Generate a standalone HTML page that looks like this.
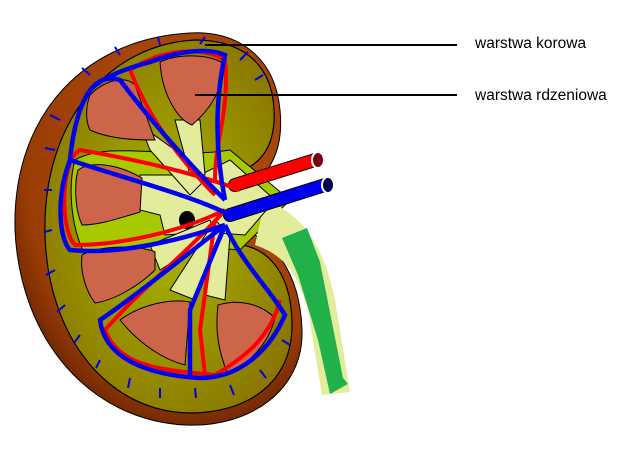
<!DOCTYPE html>
<html><head><meta charset="utf-8"><style>
html,body{margin:0;padding:0;background:#fff;width:640px;height:454px;overflow:hidden}
svg{display:block}
text{font-family:"Liberation Sans",sans-serif;font-size:15.5px;fill:#000}
</style></head><body>
<svg width="640" height="454" viewBox="0 0 640 454" xmlns="http://www.w3.org/2000/svg">
<defs>
<radialGradient id="br" cx="0.6" cy="0.35" r="0.8"><stop offset="0" stop-color="#b5520f"/><stop offset="0.7" stop-color="#9a3d05"/><stop offset="1" stop-color="#3a0c00"/></radialGradient>
<radialGradient id="ol" cx="0.5" cy="0.5" r="0.6"><stop offset="0" stop-color="#a8b800"/><stop offset="1" stop-color="#8a7400"/></radialGradient>
</defs>
<!-- outer capsule -->
<path d="M190 33 C235 30 275 55 280 110 C284 150 270 175 245 190 L240 230 C270 235 300 270 302 330 C304 390 250 428 185 425 C90 420 20 340 15 230 C12 110 90 38 190 33 Z" fill="url(#br)" stroke="#000" stroke-width="1"/>
<!-- cortex -->
<path d="M195 40 C240 40 272 62 274 110 C276 150 258 170 225 175 L225 245 C262 240 292 268 292 325 C292 385 245 413 190 413 C110 412 48 340 45 235 C42 120 110 44 195 40 Z" fill="url(#ol)" stroke="#000" stroke-width="1.2"/>
<!-- sinus -->
<path d="M75 160 C110 140 170 160 230 150 L290 200 L240 250 C200 245 150 260 85 255 C70 225 68 185 75 160 Z" fill="#a8c800" stroke="#000" stroke-width="1"/>
<!-- ureter -->
<path d="M265 200 C305 215 325 250 335 300 L350 392 L322 395 L308 310 C298 275 285 255 255 245 Z" fill="#e2ec9a"/>
<path d="M282 238 L307 228 L320 262 L343 378 L348 384 L330 394 L318 340 L298 275 Z" fill="#22b04b"/>
<!-- pelvis/calyces -->
<path d="M140 175 L200 175 L230 160 L275 200 L245 235 L205 232 L165 235 L160 215 L140 210 Z" fill="#e2ec9a" stroke="#000" stroke-width="1"/>
<path d="M140 125 L175 150 L205 180 L190 195 L150 150 Z M175 120 L200 120 L205 175 L190 175 Z M150 245 L210 220 L215 235 L160 270 Z M170 290 L215 220 L225 230 L195 300 Z M205 295 L215 230 L230 235 L225 300 Z" fill="#e2ec9a" stroke="#000" stroke-width="1"/>
<ellipse cx="187" cy="220" rx="8" ry="9" fill="#000"/>
<!-- pyramids -->
<g fill="#cd654a" stroke="#000" stroke-width="1">
<path d="M160 62 C180 52 215 55 225 65 C222 90 210 110 192 125 C178 120 162 95 160 62 Z"/>
<path d="M90 95 C105 80 125 75 135 85 L155 140 C140 140 112 140 90 130 C85 120 86 105 90 95 Z"/>
<path d="M78 170 C92 160 120 165 142 178 L140 212 C120 218 100 225 82 225 C75 210 74 185 78 170 Z"/>
<path d="M82 255 C100 245 140 245 155 252 L155 270 C140 285 115 300 95 303 C85 290 80 270 82 255 Z"/>
<path d="M120 320 C140 305 170 298 190 302 L185 365 C165 360 140 345 120 320 Z"/>
<path d="M218 305 C240 298 262 305 275 318 C268 345 250 362 228 375 C218 350 215 330 218 305 Z"/>
</g>
<!-- vessels -->
<g fill="none" stroke-linecap="round">
<path d="M235 185 L315 160" stroke="#000" stroke-width="14"/>
<path d="M235 185 L315 160" stroke="#f00" stroke-width="12"/>
<path d="M230 215 L325 185" stroke="#000" stroke-width="14"/>
<path d="M230 215 L325 185" stroke="#0000ee" stroke-width="12"/>
</g>
<ellipse cx="318" cy="160" rx="6" ry="8" fill="#7a0010" stroke="#fff" stroke-width="2"/>
<ellipse cx="328" cy="185" rx="6" ry="8" fill="#000050" stroke="#fff" stroke-width="2"/>
<g fill="none" stroke="#f00" stroke-width="4">
<path d="M240 190 C200 175 140 160 80 150 C60 160 60 230 75 245 C120 245 180 232 225 210"/>
<path d="M225 210 C190 250 140 290 105 330 C120 370 170 370 215 375 C240 360 270 340 280 300"/>
<path d="M215 195 C180 160 150 120 130 70 C160 50 200 45 225 60 C230 110 215 140 215 180"/>
<path d="M215 220 L200 330 L205 375"/>
</g>
<g fill="none" stroke="#0000ee" stroke-width="4.5">
<path d="M230 215 C190 195 130 180 70 160 C55 200 60 240 70 250 C120 255 180 240 225 225"/>
<path d="M225 225 C180 260 130 300 100 320 C105 360 150 375 200 378 C240 378 270 350 285 315 C270 290 240 260 225 225"/>
<path d="M225 200 C190 165 150 120 120 80 C90 70 75 110 70 160"/>
<path d="M225 200 C215 150 215 100 225 55 C210 48 180 50 150 62 C120 70 100 80 90 90"/>
<path d="M225 225 L190 310 L190 375"/>
</g>
<g stroke="#0000ee" stroke-width="2" fill="none">
<path d="M60 120 L50 115 M55 150 L45 148 M52 190 L44 190 M52 230 L44 232 M55 270 L46 275 M65 305 L57 312 M80 335 L74 343 M100 360 L96 368 M130 378 L128 388 M160 388 L160 398 M195 388 L196 398 M230 385 L234 395 M260 370 L266 378 M282 340 L290 345 M90 75 L82 68 M120 55 L115 47 M160 45 L158 37 M200 44 L205 37 M240 60 L248 52 M255 80 L263 75"/>
</g>
<!-- labels -->
<line x1="205" y1="45" x2="457" y2="45" stroke="#000" stroke-width="2"/>
<line x1="195" y1="95" x2="457" y2="95" stroke="#000" stroke-width="2"/>
<text x="475" y="48">warstwa korowa</text>
<text x="475" y="100">warstwa rdzeniowa</text>
</svg>
</body></html>
